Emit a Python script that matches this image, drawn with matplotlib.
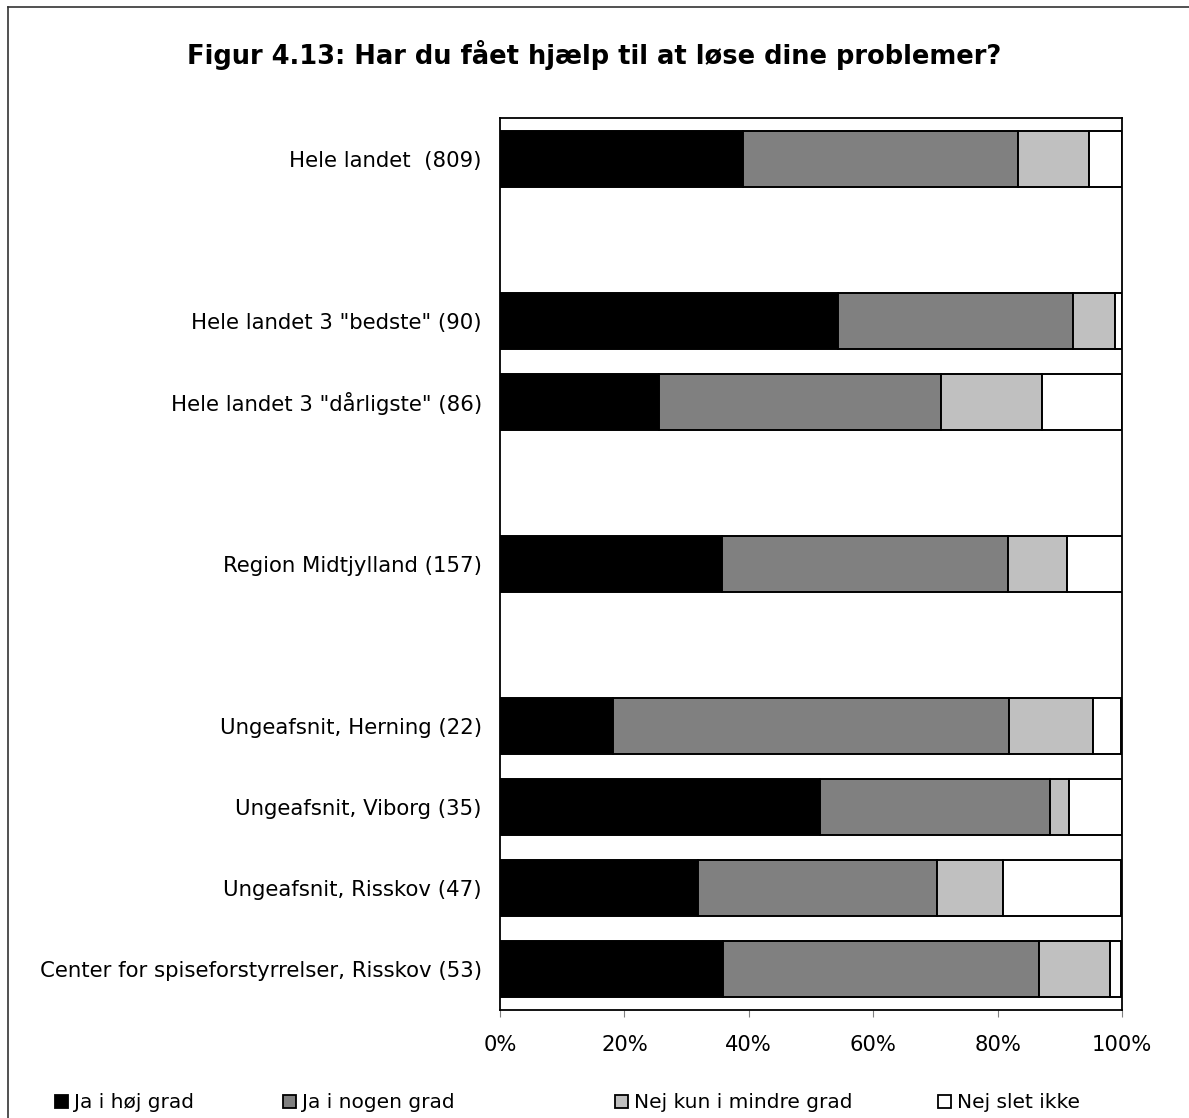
import matplotlib.pyplot as plt
from matplotlib.patches import Patch
from matplotlib.lines import Line2D
from matplotlib.ticker import FuncFormatter

# data (percent of respondents)
categories = ['Hele landet  (809)', 'Hele landet 3 "bedste" (90)', 'Hele landet 3 "dårligste" (86)',
              'Region Midtjylland (157)', 'Ungeafsnit, Herning (22)', 'Ungeafsnit, Viborg (35)',
              'Ungeafsnit, Risskov (47)', 'Center for spiseforstyrrelser, Risskov (53)']
ja_hoej = [39.1, 54.4, 25.6, 35.7, 18.2, 51.4, 31.9, 35.8]
ja_nogen = [44.2, 37.8, 45.3, 45.9, 63.6, 37.1, 38.3, 50.9]
nej_mindre = [11.4, 6.7, 16.3, 9.6, 13.6, 2.9, 10.6, 11.3]
nej_slet = [5.3, 1.1, 12.8, 8.9, 4.5, 8.6, 19.1, 1.9]
series_names = ['Ja i høj grad', 'Ja i nogen grad', 'Nej kun i mindre grad', 'Nej slet ikke']
x_ticks = [0, 20, 40, 60, 80, 100]

# layout: row slot of each category (blank slots between groups)
rows = [0, 2, 3, 5, 7, 8, 9, 10]
colors = ['#000000', '#808080', '#c0c0c0', '#ffffff']

fig = plt.figure(figsize=(11.89, 11.18), dpi=100)
ax = fig.add_axes([500/1189, 1 - 1010/1118, 622/1189, 892/1118])

left = [0] * len(categories)
for vals, col in zip([ja_hoej, ja_nogen, nej_mindre, nej_slet], colors):
    ax.barh(rows, vals, left=left, height=0.69, color=col, edgecolor='black', linewidth=1.4)
    left = [l + v for l, v in zip(left, vals)]

ax.set_xlim(0, 100)
ax.set_ylim(10.5, -0.5)
ax.set_yticks(rows)
ax.set_yticklabels(categories, fontsize=15.3)
ax.tick_params(axis='y', length=0, pad=13)
ax.set_xticks(x_ticks)
ax.xaxis.set_major_formatter(FuncFormatter(lambda v, p: '%d%%' % v))
ax.tick_params(axis='x', length=5, color='#808080', labelsize=15.2, pad=13)
for s in ax.spines.values():
    s.set_linewidth(1.3)

fig.text(0.5, 1 - 55/1118, 'Figur 4.13: Har du fået hjælp til at løse dine problemer?',
         ha='center', va='center', fontsize=18.5, fontweight='bold')

# legend, one entry per position
leg_x = [55/1189, 283/1189, 615/1189, 938/1189]
for name, col, lx in zip(series_names, colors, leg_x):
    h = Patch(facecolor=col, edgecolor='black', linewidth=1.3)
    lg = fig.legend([h], [name], loc='center left', bbox_to_anchor=(lx, 1 - 1103/1118),
                    frameon=False, fontsize=14.5, handlelength=0.65, handleheight=0.65,
                    handletextpad=0.3, borderpad=0, borderaxespad=0)

# outer frame
fig.add_artist(Line2D([8/1189, 1.0], [1 - 7/1118, 1 - 7/1118], color='#333333', linewidth=1.2))
fig.add_artist(Line2D([8/1189, 8/1189], [0.0, 1 - 7/1118], color='#333333', linewidth=1.2))

fig.savefig('out.png', dpi=100)
